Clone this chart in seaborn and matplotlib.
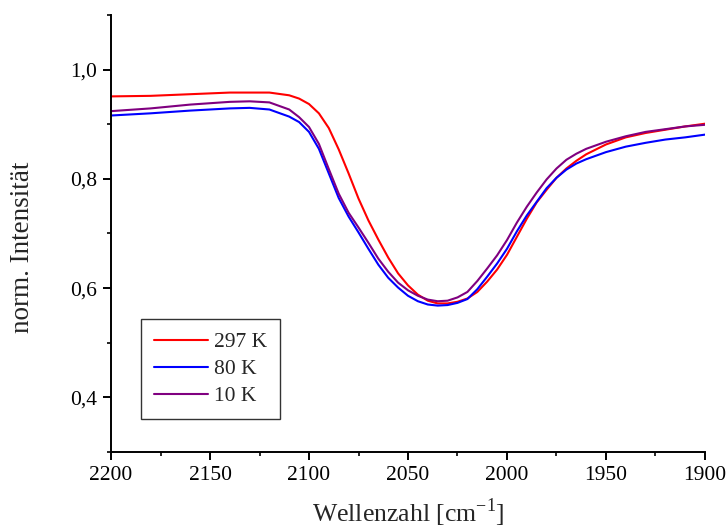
import numpy as np
import pandas as pd
import matplotlib
matplotlib.use("Agg")
import matplotlib.pyplot as plt
from matplotlib.ticker import MultipleLocator, FuncFormatter
import seaborn as sns

wavenumber = [2200, 2180, 2160, 2140, 2130, 2120, 2110, 2105, 2100, 2095, 2090, 2085, 2080, 2075,
              2070, 2065, 2060, 2055, 2050, 2045, 2040, 2035, 2030, 2025, 2020, 2015, 2010, 2005,
              2000, 1995, 1990, 1985, 1980, 1975, 1970, 1965, 1960, 1950, 1940, 1930, 1920, 1910, 1900]
int_297K = [0.951, 0.952, 0.955, 0.958, 0.958, 0.958, 0.953, 0.947, 0.937, 0.920, 0.893, 0.854, 0.810, 0.764,
            0.724, 0.689, 0.656, 0.627, 0.605, 0.588, 0.577, 0.572, 0.572, 0.575, 0.581, 0.593, 0.612, 0.634,
            0.661, 0.694, 0.727, 0.757, 0.780, 0.802, 0.819, 0.833, 0.845, 0.863, 0.876, 0.884, 0.890, 0.896, 0.901]
int_80K = [0.916, 0.920, 0.925, 0.929, 0.930, 0.927, 0.914, 0.904, 0.886, 0.855, 0.810, 0.765, 0.731, 0.702,
           0.672, 0.643, 0.619, 0.601, 0.586, 0.576, 0.570, 0.568, 0.569, 0.573, 0.580, 0.598, 0.621, 0.645,
           0.672, 0.704, 0.733, 0.758, 0.783, 0.802, 0.817, 0.828, 0.836, 0.849, 0.859, 0.866, 0.872, 0.876, 0.881]
int_10K = [0.924, 0.929, 0.936, 0.941, 0.942, 0.940, 0.927, 0.913, 0.895, 0.864, 0.818, 0.773, 0.738, 0.711,
           0.683, 0.654, 0.630, 0.610, 0.596, 0.586, 0.579, 0.576, 0.577, 0.583, 0.593, 0.613, 0.636, 0.660,
           0.688, 0.720, 0.749, 0.775, 0.799, 0.819, 0.835, 0.846, 0.855, 0.868, 0.878, 0.886, 0.891, 0.896, 0.899]
labels = ["297 K", "80 K", "10 K"]
colors = ["#ff0000", "#0000ff", "#800080"]

frames = []
for lab, vals in zip(labels, [int_297K, int_80K, int_10K]):
    frames.append(pd.DataFrame({"x": wavenumber, "y": vals, "T": lab}))
df = pd.concat(frames, ignore_index=True)

sns.set_style("ticks")
plt.rcParams["font.family"] = ["Liberation Serif", "DejaVu Serif"]
plt.rcParams["mathtext.fontset"] = "custom"
plt.rcParams["mathtext.rm"] = "Liberation Serif"

fig = plt.figure(figsize=(7.26, 5.31), dpi=100)
ax = fig.add_axes([111/726, 1-452/531, (705-111)/726, (452-15)/531])

sns.lineplot(data=df, x="x", y="y", hue="T", hue_order=labels, palette=colors,
             linewidth=1.5, ax=ax, sort=False, estimator=None)

ax.set_xlim(2200, 1900)
ax.set_ylim(0.3, 1.1)
ax.xaxis.set_major_locator(MultipleLocator(50))
ax.xaxis.set_minor_locator(MultipleLocator(25))
ax.yaxis.set_major_locator(MultipleLocator(0.2))
ax.yaxis.set_minor_locator(MultipleLocator(0.1))
ax.yaxis.set_major_formatter(FuncFormatter(lambda v, p: f"{v:.1f}".replace(".", ",")))
ax.xaxis.set_major_formatter(FuncFormatter(lambda v, p: f"{v:.0f}"))

for s in ["top", "right"]:
    ax.spines[s].set_visible(False)
for s in ["left", "bottom"]:
    ax.spines[s].set_linewidth(1.4)
    ax.spines[s].set_color("black")
ax.tick_params(which="major", direction="out", length=6, width=1.4, labelsize=15.5,
               colors="black", pad=4)
ax.tick_params(which="minor", direction="out", length=3.2, width=1.4)

ax.set_xlabel("Wellenzahl [cm$^{-1}$]", fontsize=18.5)
ax.set_ylabel("norm. Intensität", fontsize=19.5)
ax.xaxis.set_label_coords(0.5, -0.102)
ax.yaxis.set_label_coords(-0.128, 0.469)

leg = ax.legend(loc="lower left", bbox_to_anchor=(0.0505, 0.0755), borderaxespad=0,
                fontsize=15.5, frameon=True, fancybox=False, edgecolor="black",
                handlelength=2.5, borderpad=0.6, labelspacing=0.32, handletextpad=0.3)
leg.get_frame().set_linewidth(1.0)
for h in leg.get_lines():
    h.set_linewidth(1.5)

fig.savefig("out.png", dpi=100)
